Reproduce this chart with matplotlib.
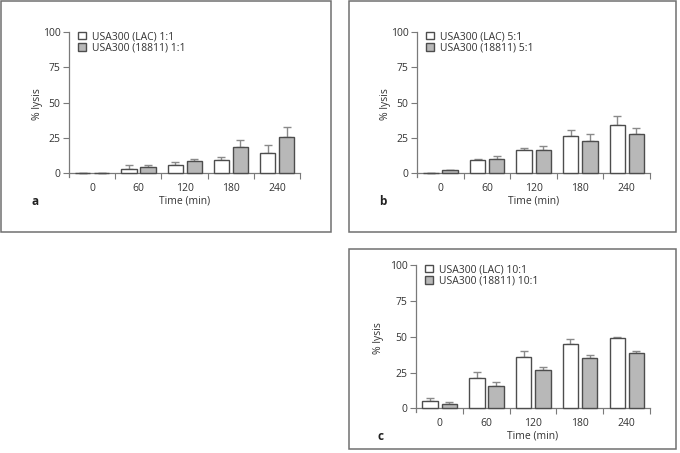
import matplotlib

matplotlib.use("Agg")
import matplotlib.pyplot as plt
from matplotlib.patches import Rectangle

plt.rcParams["font.family"] = ["Open Sans", "DejaVu Sans"]

times = ["0", "60", "120", "180", "240"]

# panel a, 1:1
lac_1 = [0.0, 3.4, 5.7, 9.2, 14.7]
lac_1_err = [0.0, 2.6, 2.1, 2.5, 5.3]
s18811_1 = [0.0, 4.8, 8.7, 18.6, 25.5]
s18811_1_err = [0.0, 1.4, 1.6, 4.8, 7.5]

# panel b, 5:1
lac_5 = [0.2, 9.2, 16.3, 26.6, 34.6]
lac_5_err = [0.0, 1.3, 1.6, 4.4, 6.0]
s18811_5 = [2.3, 10.5, 16.3, 23.2, 27.8]
s18811_5_err = [0.5, 1.9, 3.0, 5.0, 4.5]

# panel c, 10:1
lac_10 = [5.0, 21.0, 36.0, 45.0, 48.9]
lac_10_err = [2.5, 4.3, 4.0, 3.4, 0.9]
s18811_10 = [3.4, 15.4, 26.5, 35.3, 38.5]
s18811_10_err = [1.4, 2.7, 2.2, 1.8, 1.3]

# letter, ratio, data, panel box (px), axes box (px), ylabel offset (px)
panels = [
    ("a", "1:1", lac_1, lac_1_err, s18811_1, s18811_1_err, (1, 1, 331, 232), (69, 32, 300, 177), -26),
    ("b", "5:1", lac_5, lac_5_err, s18811_5, s18811_5_err, (349, 1, 676, 232), (417, 32, 650, 177), -26),
    ("c", "10:1", lac_10, lac_10_err, s18811_10, s18811_10_err, (349, 249, 676, 449), (416, 265, 650, 412), -32),
]

W, H = 680, 453
fig = plt.figure(figsize=(W / 100, H / 100), dpi=100)

spine_color = "#7a7a7a"
text_color = "#333333"

for letter, ratio, white, white_err, grey, grey_err, box, ax_px, ylab_dx in panels:
    x0, y0, x1, y1 = box
    fig.patches.append(Rectangle((x0 / W, 1 - y1 / H), (x1 - x0) / W, (y1 - y0) / H,
                                 transform=fig.transFigure, fill=False,
                                 edgecolor="#707070", linewidth=1.1))

    left, top, right, bottom = ax_px
    axis = fig.add_axes([left / W, 1 - bottom / H, (right - left) / W, (bottom - top) / H])
    positions = list(range(len(times)))
    width = 0.33
    pos_white = [p - 0.2 for p in positions]
    pos_grey = [p + 0.21 for p in positions]
    axis.bar(pos_white, white, width, color="white", edgecolor="#4d4d4d", linewidth=1.0,
             label=f"USA300 (LAC) {ratio}", zorder=3)
    axis.bar(pos_grey, grey, width, color="#b8b8b8", edgecolor="#4d4d4d", linewidth=1.0,
             label=f"USA300 (18811) {ratio}", zorder=3)
    axis.errorbar(pos_white, white, yerr=[[0] * len(white), white_err], fmt="none",
                  ecolor="#8a8a8a", elinewidth=1.0, capsize=3, capthick=1.0, zorder=2)
    axis.errorbar(pos_grey, grey, yerr=[[0] * len(grey), grey_err], fmt="none",
                  ecolor="#8a8a8a", elinewidth=1.0, capsize=3, capthick=1.0, zorder=2)

    axis.set_xlim(-0.5, 4.5)
    axis.set_ylim(-2.5, 100)
    axis.spines["top"].set_visible(False)
    axis.spines["right"].set_visible(False)
    axis.spines["bottom"].set_position(("data", 0))
    axis.spines["left"].set_bounds(-2.5, 100)
    for side in ("left", "bottom"):
        axis.spines[side].set_color(spine_color)
        axis.spines[side].set_linewidth(0.9)

    axis.set_yticks([0, 25, 50, 75, 100])
    axis.set_xticks([0.5, 1.5, 2.5, 3.5, 4.5])
    axis.set_xticklabels([])
    axis.set_xticks(positions, minor=True)
    axis.set_xticklabels(times, minor=True)
    axis.tick_params(axis="y", direction="out", length=4, width=0.8, color=spine_color,
                     labelsize=7.5, labelcolor=text_color, pad=2)
    axis.tick_params(axis="x", which="major", direction="out", length=4, width=0.8, color=spine_color)
    axis.tick_params(axis="x", which="minor", length=0, labelsize=7.5, labelcolor=text_color, pad=7)
    axis.set_ylabel("% lysis", fontsize=7.5, color=text_color)
    axis.yaxis.set_label_coords(ylab_dx / (right - left), 0.5)
    axis.set_xlabel("Time (min)", fontsize=7.5, color=text_color, labelpad=1)

    axis.legend(loc="upper left", bbox_to_anchor=(0.02, 1.035), frameon=False, fontsize=7.5,
                handlelength=0.75, handleheight=0.7, handletextpad=0.6, labelspacing=0.05,
                borderaxespad=0.0, labelcolor=text_color)

    fig.text((left - 38) / W, 1 - (bottom + 24) / H, letter, fontsize=8.5, fontweight="bold",
             color="#222222", ha="left", va="center")

fig.savefig("out.png", dpi=100)
